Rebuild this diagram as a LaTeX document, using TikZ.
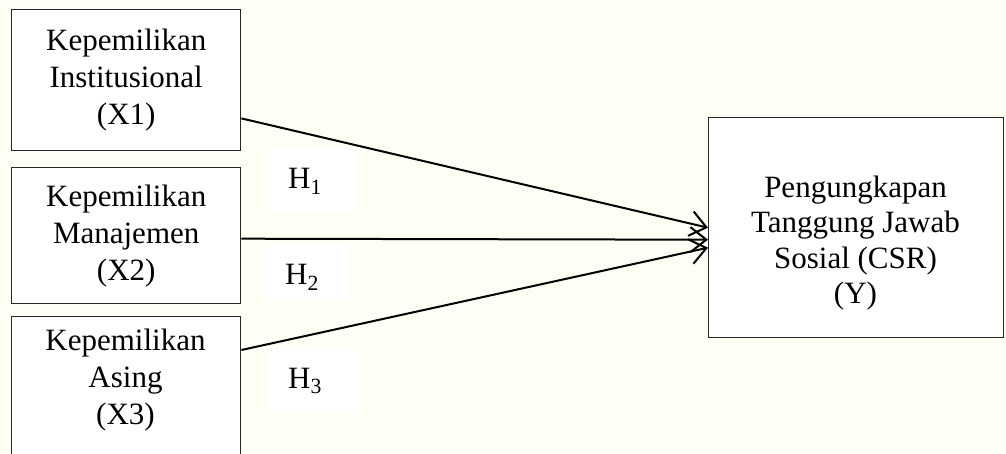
\documentclass[tikz,border=0pt]{standalone}
\usepackage{fontspec}
\setmainfont{Liberation Serif}
\usetikzlibrary{arrows.meta}
\definecolor{bgcream}{RGB}{255,254,244}
\begin{document}
\begin{tikzpicture}[x=1pt,y=-1pt,
  varbox/.style={draw=black!85, line width=1.4pt, fill=white, align=center,
    inner sep=0pt, font=\fontsize{31}{37}\selectfont},
  txt/.style={align=center, inner sep=0pt, font=\fontsize{31}{37}\selectfont},
  hlabel/.style={fill=white, inner sep=0pt},
  link/.style={line width=2pt, -{Straight Barb[length=16pt,width=25pt,line width=2pt]}}]
\fill[bgcream] (0,0) rectangle (1006,454);
\useasboundingbox (0,0) rectangle (1006,454);
% boxes
\node[varbox, minimum width=229pt, minimum height=141pt, anchor=north west] (x1) at (11,9)
  {Kepemilikan\\Institusional\\(X1)};
\node[varbox, minimum width=229pt, minimum height=136pt, anchor=north west] (x2) at (11,167)
  {Kepemilikan\\Manajemen\\(X2)};
\node[varbox, minimum width=229pt, minimum height=146pt, anchor=north west] (x3) at (11,316)
  {};
\node[txt] (x3t) at (125.5,380) {Kepemilikan\\Asing\\(X3)};
\node[varbox, minimum width=295pt, minimum height=220pt, anchor=north west] (y) at (708,117) {};
\node[txt, font=\fontsize{31}{35.5}\selectfont] (yt) at (855.5,243)
  {Pengungkapan\\Tanggung Jawab\\Sosial (CSR)\\(Y)};
% hypothesis labels
\node[hlabel, minimum width=89pt, minimum height=64pt] (h1b) at (312,180) {};
\node[txt] (h1) at (305,181) {H\textsubscript{1}};
\node[hlabel, minimum width=84pt, minimum height=57pt] (h2b) at (307,273) {};
\node[txt] (h2) at (302,277) {H\textsubscript{2}};
\node[hlabel, minimum width=92pt, minimum height=64pt] (h3b) at (315,381) {};
\node[txt] (h3) at (305,381) {H\textsubscript{3}};
% connector end points
\coordinate (s1) at ([yshift=33pt]x1.south east);
\coordinate (s2) at ([yshift=-3pt]x2.east);
\coordinate (s3) at ([yshift=-34pt]x3.north east);
\coordinate (e2) at ([yshift=-12pt]y.west);
\coordinate (e3) at ([yshift=-20pt]y.west);
% arrows
\draw[link] (s1) -- (y.west);
\draw[link] (s2) -- (e2);
\draw[link] (s3) -- (e3);
\end{tikzpicture}
\end{document}
